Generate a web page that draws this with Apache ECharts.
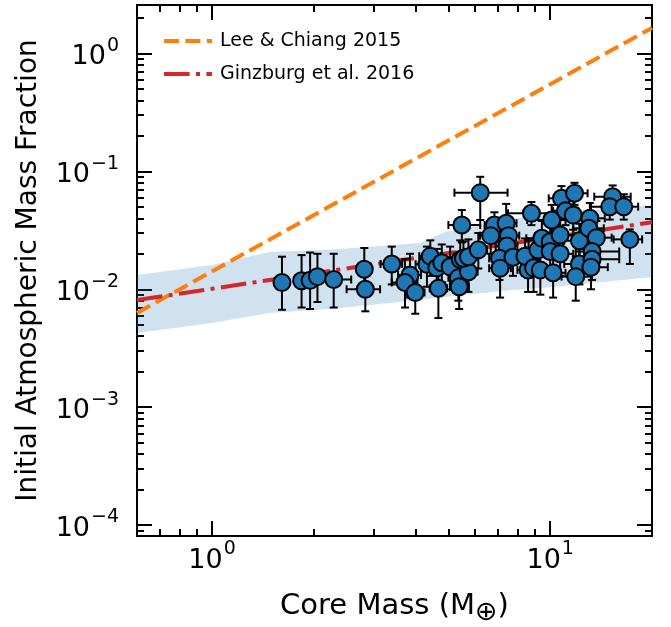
<!DOCTYPE html>
<html>
<head>
<meta charset="utf-8">
<script src="https://cdn.jsdelivr.net/npm/echarts@6/dist/echarts.min.js"></script>
<style>
  html, body { margin: 0; padding: 0; background: #fff; }
  #chart { width: 671px; height: 627px; }
</style>
</head>
<body>
<div id="chart"></div>
<script>
// core mass (Earth masses) and its error bar ends
var coreMass = [1.61, 1.84, 1.95, 2.05, 2.29, 2.82, 2.84, 3.40, 3.85, 3.72, 3.99, 4.67, 4.32, 4.42, 4.62, 4.78,
  5.06, 5.42, 5.35, 5.38, 5.73, 5.54, 5.73, 6.13, 5.48, 6.21, 6.84, 7.41, 6.67, 7.53, 7.45, 7.08,
  7.11, 7.76, 8.63, 8.60, 8.80, 8.42, 8.93, 9.35, 9.20, 9.45, 10.0, 10.0, 10.1, 10.7, 10.2, 10.7,
  10.8, 11.1, 11.8, 11.7, 12.2, 12.2, 11.9, 13.1, 13.0, 13.7, 13.3, 13.3, 13.2, 15.3, 15.0, 16.5, 17.2];
var coreMassLo = [1.55, 1.76, 1.88, 1.97, 2.05, 2.70, 2.50, 3.15, 3.55, 3.40, 3.75, 4.40, 4.00, 4.10, 4.30, 4.45,
  4.70, 5.05, 5.00, 5.05, 5.40, 5.20, 5.35, 5.75, 5.00, 5.21, 6.40, 6.90, 6.20, 7.00, 6.90, 6.60,
  6.60, 7.20, 8.00, 8.00, 7.50, 7.80, 8.20, 8.60, 8.50, 8.50, 9.20, 9.20, 8.55, 9.80, 9.40, 9.80,
  9.90, 10.2, 10.8, 10.6, 11.0, 11.0, 10.8, 11.8, 11.7, 12.3, 11.9, 11.9, 11.8, 13.5, 13.2, 15.0, 15.4];
var coreMassHi = [1.68, 1.92, 2.02, 2.12, 2.58, 2.95, 3.14, 3.65, 4.15, 4.05, 4.25, 4.95, 4.65, 4.75, 4.95, 5.10,
  5.40, 5.80, 5.70, 5.75, 6.10, 5.90, 6.10, 6.50, 6.21, 7.48, 7.30, 7.95, 7.15, 8.10, 8.00, 7.60,
  7.65, 8.35, 9.30, 9.20, 10.5, 9.10, 9.70, 10.1, 10.0, 10.5, 10.9, 10.9, 12.9, 11.7, 11.1, 11.7,
  11.8, 12.1, 12.9, 12.9, 13.6, 13.8, 13.2, 14.5, 14.4, 15.2, 16.0, 16.0, 14.8, 17.3, 16.8, 18.2, 18.7];
// initial atmospheric mass fraction and its error bar ends
var atmFrac = [0.0114, 0.0118, 0.0119, 0.0128, 0.0121, 0.0148, 0.0100, 0.0164, 0.0132, 0.0114, 0.0094, 0.0102, 0.0163, 0.0191, 0.0152, 0.0168,
  0.0155, 0.0179, 0.0125, 0.0105, 0.0141, 0.0183, 0.0189, 0.0216, 0.0351, 0.066, 0.0351, 0.0363, 0.0285, 0.0285, 0.0233, 0.0183,
  0.0151, 0.0187, 0.0183, 0.0146, 0.0441, 0.0191, 0.0152, 0.0146, 0.0216, 0.0271, 0.0253, 0.0209, 0.0387, 0.0200, 0.0138, 0.0289,
  0.0591, 0.0464, 0.0652, 0.0427, 0.0258, 0.0164, 0.0128, 0.0400, 0.0329, 0.0274, 0.0209, 0.0180, 0.0154, 0.0610, 0.0502, 0.0502, 0.0265];
var atmFracLo = [0.0067, 0.0070, 0.0068, 0.0078, 0.0070, 0.0100, 0.0065, 0.0110, 0.0085, 0.0070, 0.0062, 0.0057, 0.0105, 0.0130, 0.0100, 0.0115,
  0.0100, 0.0120, 0.0080, 0.0068, 0.0095, 0.0125, 0.0130, 0.0150, 0.0250, 0.0387, 0.0250, 0.0200, 0.0200, 0.0200, 0.0160, 0.0120,
  0.0085, 0.0130, 0.0125, 0.0095, 0.0350, 0.0130, 0.0095, 0.0090, 0.0150, 0.0190, 0.0180, 0.0140, 0.0290, 0.0130, 0.0085, 0.0200,
  0.0450, 0.0350, 0.0520, 0.0320, 0.0180, 0.0110, 0.0080, 0.0290, 0.0230, 0.0190, 0.0140, 0.0120, 0.0100, 0.0480, 0.0390, 0.0390, 0.0164];
var atmFracHi = [0.0189, 0.0195, 0.0205, 0.0200, 0.0200, 0.0224, 0.0148, 0.0230, 0.0200, 0.0180, 0.0140, 0.0170, 0.0230, 0.0260, 0.0220, 0.0240,
  0.0230, 0.0260, 0.0190, 0.0160, 0.0205, 0.0255, 0.0265, 0.0300, 0.0470, 0.090, 0.0450, 0.0530, 0.0380, 0.0380, 0.0320, 0.0260,
  0.0210, 0.0260, 0.0260, 0.0210, 0.0550, 0.0270, 0.0230, 0.0220, 0.0300, 0.0380, 0.0350, 0.0300, 0.0520, 0.0290, 0.0210, 0.0400,
  0.0750, 0.0600, 0.0800, 0.0560, 0.0360, 0.0240, 0.0190, 0.0540, 0.0450, 0.0380, 0.0300, 0.0260, 0.0230, 0.0760, 0.0640, 0.0640, 0.0322];

// shaded band
var bandMass = [0.6, 1.0, 1.48, 2.23, 4.12, 4.89, 7.26, 10, 20];
var bandUpper = [0.0132, 0.0161, 0.0207, 0.0216, 0.0247, 0.0306, 0.0387, 0.0435, 0.0519];
var bandLower = [0.00426, 0.00518, 0.0063, 0.0068, 0.0081, 0.0086, 0.0097, 0.0104, 0.0127];

// model curves (end points)
var leeMass = [0.6, 20];
var leeFrac = [0.0063, 1.65];
var ginzMass = [0.6, 20];
var ginzFrac = [0.0081, 0.037];

// ticks
var xMajor = [1, 10];
var xMinor = [0.6, 0.7, 0.8, 0.9, 2, 3, 4, 5, 6, 7, 8, 9, 20];
var yMajor = [1e-4, 1e-3, 1e-2, 1e-1, 1];
var yMinor = [9e-5];
[1e-4, 1e-3, 1e-2, 1e-1].forEach(function(d) {
	for (var m = 2; m <= 9; m++) yMinor.push(Number((m * d).toPrecision(3)));
});
yMinor.push(2);

var FONT = 'DejaVu Sans';
var LEE_DASH = [15, 6.4];
var GINZ_DASH = [25.6, 6.4, 4, 6.4];

function powLabel(v) {
	var e = Math.round(Math.log10(v));
	return '{a|10}{b|' + (e < 0 ? '\u2212' + (-e) : e) + '}';
}
var labelRich = {
	a: { fontSize: 27, fontFamily: FONT, color: '#000', lineHeight: 34, verticalAlign: 'bottom' },
	b: { fontSize: 19, fontFamily: FONT, color: '#000', lineHeight: 34, verticalAlign: 'top', padding: [0, 0, 0, 1] }
};

function frameAxis(pos, ticks, len, withLabels, extra) {
	var ax = {
		type: 'log',
		position: pos,
		axisLine: { show: true, lineStyle: { color: '#000', width: 2 } },
		axisTick: { show: true, inside: true, length: len, customValues: ticks, lineStyle: { color: '#000', width: 2 } },
		axisLabel: withLabels ? { show: true, customValues: ticks, formatter: powLabel, rich: labelRich, fontSize: 27, fontFamily: FONT, color: '#000' } : { show: false },
		splitLine: { show: false },
		minorTick: { show: false }
	};
	for (var k in extra) ax[k] = extra[k];
	return ax;
}

var xr = { min: 0.6, max: 20 };
var yr = { min: 8.07e-5, max: 2.58 };

var xAxes = [
	frameAxis('bottom', xMajor, 15, true, Object.assign({
		name: 'Core Mass (M{s|\u2295})',
		nameLocation: 'middle',
		nameGap: 51,
		nameTextStyle: { fontSize: 29, fontFamily: FONT, color: '#000',
			rich: { s: { fontSize: 27, fontFamily: FONT, color: '#000', padding: [12, 0, 0, 0] } } }
	}, xr)),
	frameAxis('top', xMajor, 15, false, xr),
	frameAxis('bottom', xMinor, 7, false, xr),
	frameAxis('top', xMinor, 7, false, xr)
];
xAxes[0].axisLabel.margin = 4;

var yAxes = [
	frameAxis('left', yMajor, 15, true, Object.assign({
		name: 'Initial Atmospheric Mass Fraction',
		nameLocation: 'middle',
		nameGap: 94,
		nameTextStyle: { fontSize: 28, fontFamily: FONT, color: '#000' }
	}, yr)),
	frameAxis('right', yMajor, 15, false, yr),
	frameAxis('left', yMinor, 7, false, yr),
	frameAxis('right', yMinor, 7, false, yr)
];
yAxes[0].axisLabel.margin = 18;

function zip(a, b) {
	return a.map(function(v, i) { return [v, b[i]]; });
}

var points = coreMass.map(function(m, i) {
	return [m, atmFrac[i], coreMassLo[i], coreMassHi[i], atmFracLo[i], atmFracHi[i]];
});

function renderErrorBar(params, api) {
	var x = api.value(0), y = api.value(1);
	var c = api.coord([x, y]);
	var l = api.coord([api.value(2), y]);
	var r = api.coord([api.value(3), y]);
	var b = api.coord([x, api.value(4)]);
	var t = api.coord([x, api.value(5)]);
	var cap = 4;
	var st = { stroke: '#000', lineWidth: 2 };
	return {
		type: 'group',
		children: [
			{ type: 'line', shape: { x1: l[0], y1: c[1], x2: r[0], y2: c[1] }, style: st },
			{ type: 'line', shape: { x1: c[0], y1: b[1], x2: c[0], y2: t[1] }, style: st },
			{ type: 'line', shape: { x1: l[0], y1: c[1] - cap, x2: l[0], y2: c[1] + cap }, style: st },
			{ type: 'line', shape: { x1: r[0], y1: c[1] - cap, x2: r[0], y2: c[1] + cap }, style: st },
			{ type: 'line', shape: { x1: c[0] - cap, y1: b[1], x2: c[0] + cap, y2: b[1] }, style: st },
			{ type: 'line', shape: { x1: c[0] - cap, y1: t[1], x2: c[0] + cap, y2: t[1] }, style: st }
		]
	};
}

function renderBand(params, api) {
	if (params.dataIndex !== 0) return;
	var pts = [];
	for (var i = 0; i < bandMass.length; i++) pts.push(api.coord([bandMass[i], bandUpper[i]]));
	for (var j = bandMass.length - 1; j >= 0; j--) pts.push(api.coord([bandMass[j], bandLower[j]]));
	return { type: 'polygon', shape: { points: pts }, style: { fill: 'rgba(31,119,180,0.21)' } };
}

var myChart = echarts.init(document.getElementById('chart'), null, { renderer: 'canvas' });

var option = {
	animation: false,
	backgroundColor: '#fff',
	grid: { left: 137, right: 19, top: 5, bottom: 91, containLabel: false, outerBoundsMode: 'none' },
	legend: {
		left: 157,
		top: 25,
		orient: 'vertical',
		itemWidth: 48,
		itemHeight: 14,
		itemGap: 11,
		itemStyle: { opacity: 0 },
		data: [
			{ name: 'Lee & Chiang 2015', lineStyle: { width: 4, type: LEE_DASH, color: '#ff7f0e', cap: 'butt' } },
			{ name: 'Ginzburg et al. 2016', lineStyle: { width: 4, type: GINZ_DASH, color: '#d62728', cap: 'butt' } }
		],
		textStyle: { fontSize: 19, fontFamily: FONT, color: '#000', lineHeight: 22, padding: [0, 0, 0, 3] }
	},
	xAxis: xAxes,
	yAxis: yAxes,
	series: [
		{
			type: 'custom',
			name: 'band',
			renderItem: renderBand,
			data: zip(bandMass, bandUpper),
			encode: { x: 0, y: 1 },
			clip: true,
			silent: true,
			z: 1
		},
		{
			type: 'line',
			name: 'Lee & Chiang 2015',
			data: zip(leeMass, leeFrac),
			symbol: 'none',
			color: '#ff7f0e',
			lineStyle: { color: '#ff7f0e', width: 4, type: LEE_DASH, cap: 'butt' },
			z: 2
		},
		{
			type: 'line',
			name: 'Ginzburg et al. 2016',
			data: zip(ginzMass, ginzFrac),
			symbol: 'none',
			color: '#d62728',
			lineStyle: { color: '#d62728', width: 4, type: GINZ_DASH, cap: 'butt' },
			z: 2
		},
		{
			type: 'custom',
			name: 'errors',
			renderItem: renderErrorBar,
			data: points,
			encode: { x: 0, y: 1 },
			clip: true,
			z: 3
		},
		{
			type: 'scatter',
			name: 'planets',
			data: zip(coreMass, atmFrac),
			symbol: 'circle',
			symbolSize: 17,
			itemStyle: { color: '#1f77b4', borderColor: '#000', borderWidth: 2, opacity: 1 },
			z: 4
		}
	]
};

myChart.setOption(option);
</script>
</body>
</html>
